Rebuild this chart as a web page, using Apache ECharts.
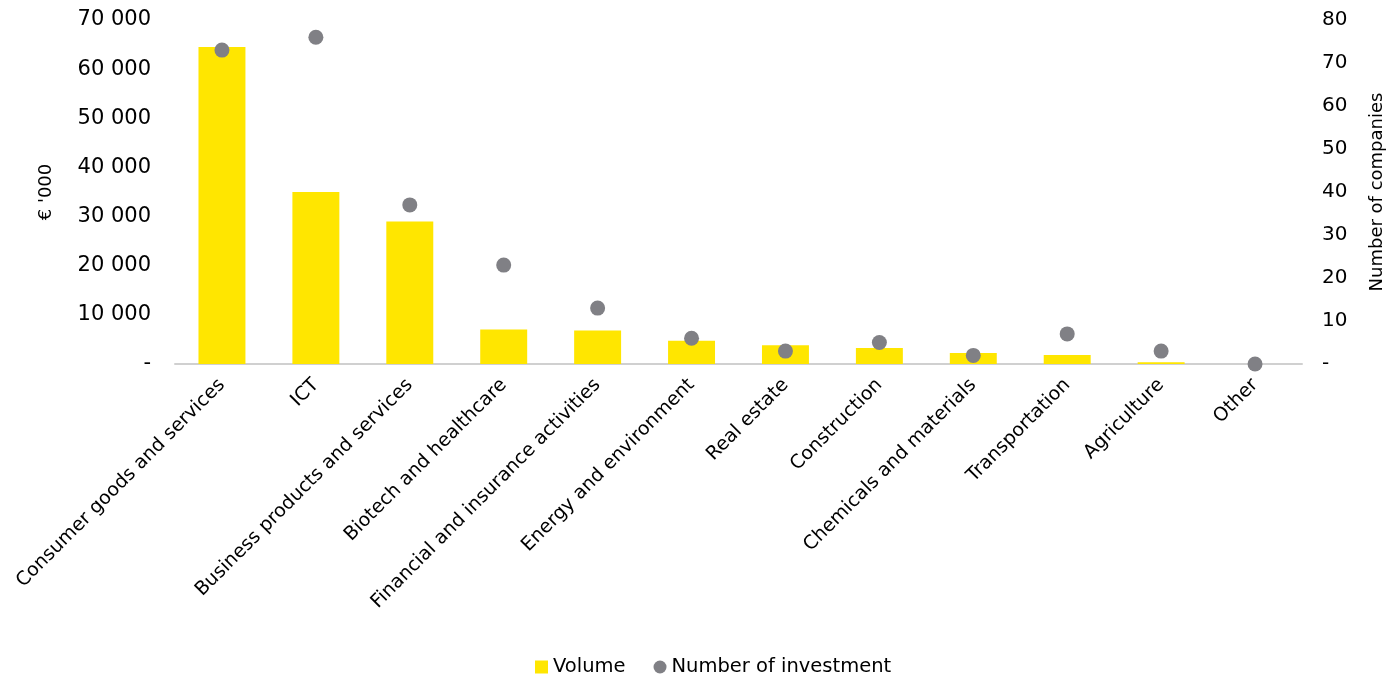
<!DOCTYPE html>
<html><head><meta charset="utf-8">
<script src="https://cdn.jsdelivr.net/npm/echarts@6/dist/echarts.min.js"></script>
<style>html,body{margin:0;padding:0;background:#fff}#c{width:1400px;height:679px}</style>
</head><body><div id="c"></div>
<script>
const categories = ["Consumer goods and services","ICT","Business products and services","Biotech and healthcare","Financial and insurance activities","Energy and environment","Real estate","Construction","Chemicals and materials","Transportation","Agriculture","Other"];
const volume = [64500, 35000, 29000, 7000, 6800, 4750, 3800, 3250, 2240, 1830, 350, 0];
const investments = [73, 76, 37, 23, 13, 6, 3, 5, 2, 7, 3, 0];
const leftTicks = {min: 0, max: 70000, interval: 10000};
const rightTicks = {min: 0, max: 80, interval: 10};

const F = "'DejaVu Sans', sans-serif";
function fmt(v){ if (v === 0) return '-'; return String(v).replace(/\B(?=(\d{3})+(?!\d))/g, ' '); }
const chart = echarts.init(document.getElementById('c'));
chart.setOption({
  animation: false,
  grid: {left: 175, right: 98, top: 20, bottom: 315},
  legend: {
    top: 652, left: 530, itemGap: 28, itemWidth: 13, itemHeight: 13,
    textStyle: {fontFamily: F, fontSize: 19.5, color: '#000'},
    data: [{name: 'Volume', icon: 'rect'}, {name: 'Number of investment', icon: 'circle'}]
  },
  xAxis: {
    type: 'category', data: categories,
    axisLine: {lineStyle: {color: '#d0d0d0', width: 2}},
    axisTick: {show: false},
    axisLabel: {rotate: 45, interval: 0, fontFamily: F, fontSize: 19, color: '#000', margin: 18}
  },
  yAxis: [{
    type: 'value', min: leftTicks.min, max: leftTicks.max, interval: leftTicks.interval,
    name: "€ '000", nameLocation: 'middle', nameRotate: 90, nameGap: 120,
    nameTextStyle: {fontFamily: F, fontSize: 18, color: '#000'},
    splitLine: {show: false}, axisLine: {show: false}, axisTick: {show: false},
    axisLabel: {formatter: fmt, fontFamily: F, fontSize: 21, color: '#000', margin: 24}
  }, {
    type: 'value', min: rightTicks.min, max: rightTicks.max, interval: rightTicks.interval,
    name: 'Number of companies', nameLocation: 'middle', nameRotate: 90, nameGap: 66,
    nameTextStyle: {fontFamily: F, fontSize: 18, color: '#000'},
    splitLine: {show: false}, axisLine: {show: false}, axisTick: {show: false},
    axisLabel: {formatter: fmt, fontFamily: F, fontSize: 20, color: '#000', margin: 20}
  }],
  series: [{
    name: 'Volume', type: 'bar', data: volume, barWidth: '50%',
    itemStyle: {color: '#FFE600'}
  }, {
    name: 'Number of investment', type: 'scatter', yAxisIndex: 1, data: investments,
    symbolSize: 15, itemStyle: {color: '#808085', opacity: 1}, z: 5
  }]
});
</script></body></html>
